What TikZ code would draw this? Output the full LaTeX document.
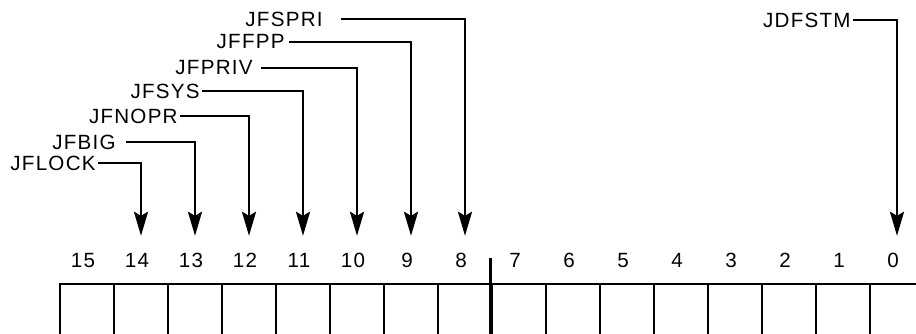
\documentclass[tikz,border=0pt]{standalone}
\usepackage{fontspec}
\setmainfont[LetterSpace=6]{Liberation Sans}
\usetikzlibrary{arrows.meta}
\tikzset{
	cell/.style = {draw=black, line width=1.2pt, minimum width=27pt,
		minimum height=30pt, inner sep=0pt},% one bit of the word
	bitnum/.style = {font=\fontsize{10.3}{12}\selectfont, inner sep=1pt},% bit number
	flag/.style = {font=\fontsize{10.3}{12}\selectfont, anchor=east, inner sep=1pt},% flag name
	flagline/.style = {line width=1.3pt, shorten >=23.5pt,
		-{Stealth[length=12pt,width=7pt,inset=2pt]}}% leader down to the bit
}

\begin{document}
\begin{tikzpicture}[x=0.5pt, y=-0.5pt]
	\useasboundingbox (0,0) rectangle (916,333);
	\clip (0,0) rectangle (916,333);
	% the 16 bits, 15 on the left
	\foreach \b in {0,...,15}{
		\node [cell] (bit\b) at ({87+(15-\b)*54},314) {};
		\path (bit\b.north) ++(-4,-22) node [bitnum] (num\b) {\b};
	}
	% byte boundary
	\draw [line width=1.5pt] (bit7.south west) -- ([yshift=12.5pt]bit7.north west);
	% flag names with their leaders
	\foreach \name/\b/\ypos/\xend/\gap in {JFSPRI/8/19/325/8, JFFPP/9/42/287/1,
		JFPRIV/10/68/255/3, JFSYS/11/91/202/0, JFNOPR/12/116/180/0,
		JFBIG/13/142/118/4, JFLOCK/14/163/98/0, JDFSTM/0/20/853/0}{
		\node [flag] (flag\b) at (\xend,\ypos) {\name};
		\draw [flagline] ([xshift=\gap pt]flag\b.east) -| (bit\b.north);
	}
\end{tikzpicture}
\end{document}
